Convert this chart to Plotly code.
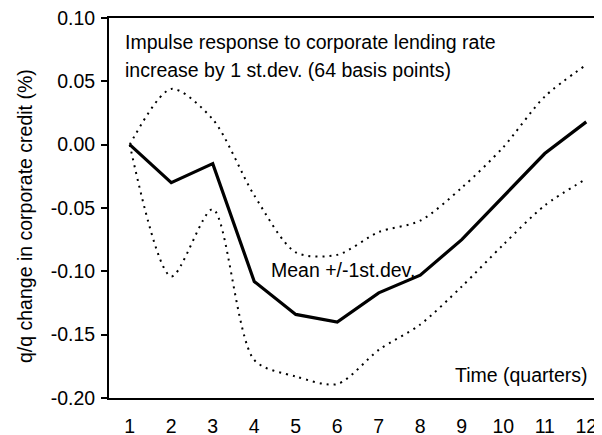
import plotly.graph_objects as go

quarters = [1, 2, 3, 4, 5, 6, 7, 8, 9, 10, 11, 12]
mean = [0.000, -0.030, -0.015, -0.108, -0.134, -0.140, -0.117, -0.103, -0.075, -0.041, -0.007, 0.018]
upper = [0.000, 0.044, 0.020, -0.040, -0.085, -0.087, -0.069, -0.060, -0.034, -0.002, 0.038, 0.063]
lower = [0.000, -0.104, -0.051, -0.170, -0.183, -0.189, -0.162, -0.142, -0.112, -0.079, -0.048, -0.027]
y_ticks = [-0.20, -0.15, -0.10, -0.05, 0.00, 0.05, 0.10]
y_ticklabels = ["-0.20", "-0.15", "-0.10", "-0.05", "0.00", "0.05", "0.10"]
boundaries = [1.5, 2.5, 3.5, 4.5, 5.5, 6.5, 7.5, 8.5, 9.5, 10.5, 11.5]

FONT = "Liberation Sans, Arial, sans-serif"
FS = 19.5
OFF = 8  # default page body margin
W, H = 602 - OFF, 435 - OFF
L, T, B = 109 - OFF, 18 - OFF, 37
xr = [0.5, 0.5 + (W - L) / 41.5]

fig = go.Figure()
dot = dict(color="black", width=2, dash="2px,5px")
fig.add_trace(go.Scatter(x=quarters, y=upper, mode="lines", line=dict(shape="spline", smoothing=0.8, **dot), showlegend=False))
fig.add_trace(go.Scatter(x=quarters, y=lower, mode="lines", line=dict(shape="spline", smoothing=0.8, **dot), showlegend=False))
fig.add_trace(go.Scatter(x=quarters, y=mean, mode="lines", line=dict(color="black", width=3.2), showlegend=False))

def px(xp):
    return (xp - OFF - L) / (W - L)

def py(yp):
    return (H - B - (yp - OFF)) / (H - B - T)

ann = dict(xref="paper", yref="paper", showarrow=False, font=dict(family=FONT, size=FS, color="black"))
fig.add_annotation(text="Impulse response to corporate lending rate", x=px(123), y=py(42), xanchor="left", yanchor="middle", **ann)
fig.add_annotation(text="increase by 1 st.dev. (64 basis points)", x=px(123), y=py(70), xanchor="left", yanchor="middle", **ann)
fig.add_annotation(text="Mean +/-1st.dev.", x=px(269), y=py(270), xanchor="left", yanchor="middle", **ann)
fig.add_annotation(text="Time (quarters)", x=px(590), y=py(375), xanchor="right", yanchor="middle", **ann)
fig.add_annotation(text="q/q change in corporate credit (%)", textangle=-90, x=px(25), y=py(216),
                   xanchor="center", yanchor="middle", **ann)

fig.update_layout(
    width=W, height=H,
    margin=dict(l=L, r=0, t=T, b=B, pad=0, autoexpand=False),
    plot_bgcolor="white", paper_bgcolor="white",
    font=dict(family=FONT, size=FS, color="black"),
    xaxis=dict(
        range=xr, tickmode="array", tickvals=quarters, ticktext=[str(q) for q in quarters],
        showgrid=False, zeroline=False, showline=True, linecolor="black", linewidth=2,
        mirror=True, ticks="", ticklabelstandoff=10, automargin=False, ticklabeloverflow="allow",
    ),
    xaxis2=dict(
        overlaying="x", anchor="free", position=(0 - (-0.2)) / 0.3, side="bottom",
        range=xr, tickmode="array", tickvals=boundaries, showticklabels=False,
        showgrid=False, zeroline=False, showline=True, linecolor="#333333", linewidth=1,
        ticks="outside", ticklen=6, tickwidth=1, tickcolor="#333333", automargin=False,
    ),
    yaxis=dict(
        range=[-0.20, 0.10], tickmode="array", tickvals=y_ticks, ticktext=y_ticklabels,
        showgrid=False, zeroline=False, showline=True, linecolor="black", linewidth=2,
        ticks="outside", ticklen=6, tickwidth=1.5, tickcolor="black", ticklabelstandoff=2,
        automargin=False, ticklabeloverflow="allow",
    ),
)
fig.write_html("out.html")
